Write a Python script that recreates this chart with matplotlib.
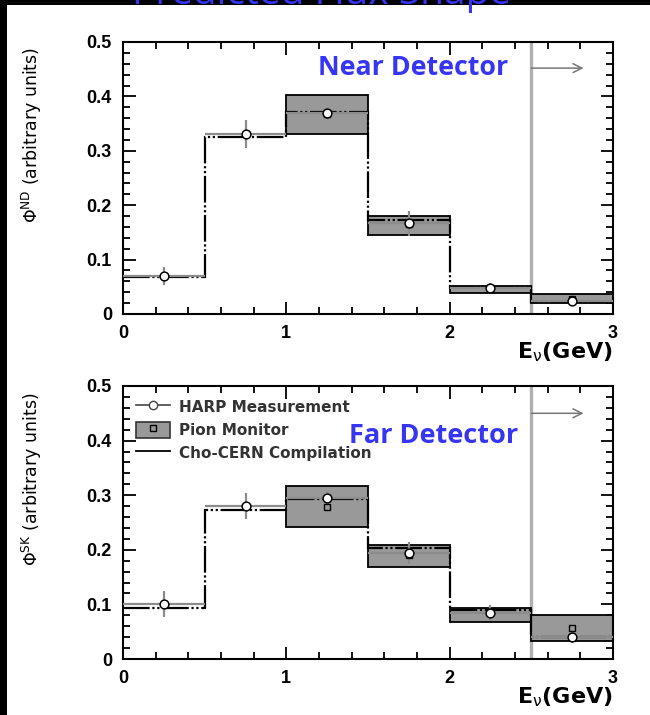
import numpy as np
import matplotlib.pyplot as plt
from matplotlib.lines import Line2D
from matplotlib.patches import Patch, Rectangle


# bin edges of the neutrino energy histogram (GeV)
binEdges = [0.0, 0.5, 1.0, 1.5, 2.0, 2.5, 3.0]

# near detector
ndChoCern  = [0.068, 0.325, 0.371, 0.173, 0.050, 0.022]
ndHarp     = [0.070, 0.331, 0.369, 0.167, 0.048, 0.023]
ndHarpErr  = [0.017, 0.026, 0.011, 0.023, 0.009, 0.006]
ndPionLow  = [0.331, 0.145, 0.039, 0.020]
ndPionHigh = [0.403, 0.180, 0.051, 0.037]
ndPion     = [0.368, 0.165, 0.047, 0.027]

# far detector (SK)
skChoCern  = [0.093, 0.273, 0.293, 0.203, 0.090, 0.040]
skHarp     = [0.101, 0.280, 0.295, 0.194, 0.084, 0.041]
skHarpErr  = [0.024, 0.024, 0.012, 0.020, 0.015, 0.012]
skPionLow  = [0.242, 0.169, 0.068, 0.033]
skPionHigh = [0.317, 0.209, 0.093, 0.081]
skPion     = [0.279, 0.190, 0.086, 0.057]

pionBins   = [2, 3, 4, 5]      # index of bins that have a pion monitor box
xTicks     = [0, 1, 2, 3]
yTicks     = [0, 0.1, 0.2, 0.3, 0.4, 0.5]
yTickLabels = ["0", "0.1", "0.2", "0.3", "0.4", "0.5"]
cutEnergy  = 2.5

BLUE = "#3535f3"
GREY = "#999999"


def drawPanel(ax, choCern, harp, harpErr, pionLow, pionHigh, pion, yLabel, arrowY):
    edges   = np.array(binEdges)
    centers = (edges[:-1] + edges[1:]) / 2
    halfW   = (edges[1:] - edges[:-1]) / 2

    # pion monitor boxes
    pc = centers[pionBins]
    ax.bar(pc, np.array(pionHigh) - np.array(pionLow), bottom=pionLow,
           width=2*halfW[pionBins], color=GREY, edgecolor="black", linewidth=1.3, zorder=2)
    ax.plot(pc, pion, ls="none", marker="s", ms=4, mfc=GREY, mec="black", mew=1.0, zorder=5)

    # Cho-CERN compilation
    ax.stairs(choCern, edges, baseline=None, color="black", lw=1.6,
              ls=(0, (12, 1.2, 1, 1.2, 1, 1.2)), zorder=3)

    # HARP measurement
    ax.errorbar(centers, harp, yerr=harpErr, xerr=halfW, fmt="none",
                ecolor="#8c8c8c", elinewidth=1.6, zorder=4)
    ax.plot(centers, harp, ls="none", marker="o", ms=6.3, mfc="white",
            mec="black", mew=1.1, zorder=6)

    # acceptance cut
    ax.axvline(cutEnergy, color="#b0b0b0", lw=2.4, zorder=1)
    ax.annotate("", xy=(2.82, arrowY), xytext=(cutEnergy, arrowY),
                arrowprops=dict(arrowstyle="->", color="#777777", lw=1.1,
                                shrinkA=0, shrinkB=0, mutation_scale=16))

    ax.set_xlim(0, 3)
    ax.set_ylim(0, 0.5)
    ax.set_xticks(xTicks)
    ax.set_xticklabels([str(t) for t in xTicks])
    ax.set_xticks(np.arange(0, 3.01, 0.2), minor=True)
    ax.set_yticks(yTicks)
    ax.set_yticklabels(yTickLabels)
    ax.set_yticks(np.arange(0, 0.501, 0.02), minor=True)
    ax.tick_params(which="both", direction="in", top=True, right=True,
                   width=1.3, labelsize=13)
    ax.tick_params(which="major", length=9, pad=8)
    ax.tick_params(which="minor", length=5)
    for lab in ax.get_xticklabels() + ax.get_yticklabels():
        lab.set_fontweight("bold")
        lab.set_family("Liberation Sans")
    for s in ax.spines.values():
        s.set_linewidth(1.5)

    ax.text(1.0, -0.14, "E$_{\\mathrm{\\nu}}$(GeV)", transform=ax.transAxes, ha="right",
            va="center", fontsize=16, fontweight="bold")
    ax.text(-0.186, 0.66, yLabel, transform=ax.transAxes, rotation=90,
            ha="center", va="center", fontsize=12.5)
    return


def main():
    plt.rcParams["font.family"] = ["DejaVu Sans"]

    fig = plt.figure(figsize=(6.5, 7.15), dpi=100)
    axTop = fig.add_axes([123/650, 1 - 314/715, 490/650, 272/715])
    axBot = fig.add_axes([123/650, 1 - 659/715, 490/650, 273/715])

    drawPanel(axTop, ndChoCern, ndHarp, ndHarpErr, ndPionLow, ndPionHigh, ndPion,
              "$\\Phi^{\\rm ND}$ (arbitrary units)", 0.452)
    drawPanel(axBot, skChoCern, skHarp, skHarpErr, skPionLow, skPionHigh, skPion,
              "$\\Phi^{\\rm SK}$ (arbitrary units)", 0.45)

    axTop.text(0.398, 0.904, "Near Detector", transform=axTop.transAxes,
               ha="left", va="center", color=BLUE, fontsize=19.3,
               fontweight="bold", family="Open Sans")
    axBot.text(0.461, 0.817, "Far Detector", transform=axBot.transAxes,
               ha="left", va="center", color=BLUE, fontsize=19.5,
               fontweight="bold", family="Open Sans")

    # legend
    handles = [
        Line2D([], [], color="#555555", lw=1.3, marker="o", ms=6, mfc="white", mec="#444444"),
        (Patch(facecolor=GREY, edgecolor="#333333", lw=1.2),
         Line2D([], [], ls="none", marker="s", ms=4, mfc=GREY, mec="black")),
        Line2D([], [], color="black", lw=1.3),
    ]
    labels = ["HARP Measurement", "Pion Monitor", "Cho-CERN Compilation"]
    leg = axBot.legend(handles, labels, loc="upper left", frameon=False,
                       bbox_to_anchor=(0.0, 1.0), handlelength=2.2,
                       handleheight=1.2, labelspacing=0.45, fontsize=11,
                       borderaxespad=0.45, handletextpad=0.6)
    for t in leg.get_texts():
        t.set_fontweight("bold")
        t.set_color("#333333")

    # slide decoration: black strips and cut-off title
    fig.patches.append(Rectangle((0, 1 - 5/715), 1, 5/715, transform=fig.transFigure,
                                 facecolor="black", zorder=0))
    fig.patches.append(Rectangle((0, 0), 7/650, 1, transform=fig.transFigure,
                                 facecolor="black", zorder=0))
    fig.text(0.495, 1 - 4/715, "Predicted Flux Shape", ha="center", va="baseline",
             color=BLUE, fontsize=28, family="Open Sans")

    fig.savefig("out.png", dpi=100)
    return


main()
